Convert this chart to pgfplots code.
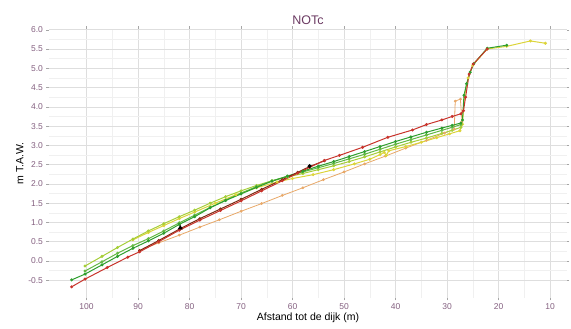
\documentclass[border=0pt]{standalone}
\usepackage{pgfplots}
\pgfplotsset{compat=1.18}
\usepackage{fontspec}
\setmainfont{Liberation Sans}
\definecolor{cRed}{HTML}{C8332B}
\definecolor{cDark}{HTML}{7A2A12}
\definecolor{cGreen}{HTML}{2E9E2E}
\definecolor{cMed}{HTML}{62B843}
\definecolor{cLight}{HTML}{A6CE39}
\definecolor{cYel}{HTML}{DCD43A}
\definecolor{cOra}{HTML}{E8A868}
\definecolor{cTick}{HTML}{846080}
\definecolor{cTitle}{HTML}{6B3A62}
\begin{document}
\begin{tikzpicture}
\begin{axis}[name=ax,
  scale only axis, width=518pt, height=269pt,
  x dir=reverse, xmin=6.7, xmax=107.3, ymin=-0.96, ymax=6.02,
  xtick={10,20,...,100}, ytick={-0.5,0,...,6.0},
  minor x tick num=1, minor y tick num=1,
  yticklabel style={/pgf/number format/.cd,fixed,fixed zerofill,precision=1},
  /pgf/number format/assume math mode=true,
  ticklabel style={font=\fontsize{8.5}{10}\selectfont, text=cTick},
  grid=both,
  major grid style={draw=black!13, line width=0.6pt},
  minor grid style={draw=black!6, line width=0.4pt},
  axis line style={draw=none},
  tick align=outside, major tick length=2.5pt, minor tick length=0pt,
  tick style={draw=black!35, line width=0.5pt},
  title={NOTc}, title style={font=\fontsize{12.5}{14}\selectfont, text=cTitle, yshift=-5pt},
  xlabel={Afstand tot de dijk (m)}, ylabel={m T.A.W.},
  label style={font=\fontsize{10.5}{12}\selectfont},
  xlabel style={yshift=4pt}, ylabel style={yshift=-2pt},
  every axis plot/.append style={line width=1pt, mark=*, mark size=0.95pt},
]
% orange / tan
\addplot[cOra, line width=0.8pt, mark options={fill=cOra, draw=cOra}] coordinates {
(89.7,0.28)(86,0.47)(82,0.67)(78,0.88)(74.2,1.07)(70,1.29)(66,1.49)(62,1.70)(58,1.90)(54,2.11)(50,2.31)(46,2.52)(42,2.72)(38,2.93)(34,3.13)(30.5,3.32)(28.6,3.42)(28.4,4.15)(27.4,4.2)(27.1,3.62)};
% yellow
\addplot[cYel, mark options={fill=cYel, draw=cYel}] coordinates {
(91,0.55)(88,0.74)(85,0.92)(82,1.10)(79,1.27)(75,1.50)(71,1.72)(67,1.90)(63,2.05)(60,2.14)(56,2.24)(52,2.37)(48,2.52)(45,2.64)(43,2.76)(42.2,2.82)(41.8,2.74)(41.3,2.86)(38,2.97)(35,3.08)(32,3.2)(29.5,3.3)(27.5,3.38)(27,3.55)(26.6,4.3)(25.9,4.75)(25,5.08)(22.2,5.5)(18.4,5.57)(13.8,5.71)(10.9,5.65)};
% light green
\addplot[cLight, mark options={fill=cLight, draw=cLight}] coordinates {
(100.3,-0.13)(97,0.12)(94,0.35)(91,0.57)(88,0.78)(85,0.97)(82,1.15)(79,1.32)(76,1.5)(73,1.67)(70,1.82)(67,1.96)(64,2.08)(61,2.18)(58,2.27)(55,2.37)(52,2.47)(49,2.58)(46,2.7)(43,2.83)(40,2.96)(37,3.08)(34,3.19)(31,3.31)(29,3.39)(27.3,3.47)};
% medium green
\addplot[cMed, mark options={fill=cMed, draw=cMed}] coordinates {
(100.3,-0.26)(97,-0.02)(94,0.2)(91,0.4)(88,0.58)(85,0.78)(82,0.99)(79,1.19)(76,1.39)(73,1.58)(70,1.76)(67,1.93)(64,2.08)(61,2.2)(58,2.31)(55,2.42)(52,2.53)(49,2.65)(46,2.77)(43,2.9)(40,3.03)(37,3.15)(34,3.27)(31,3.39)(29,3.47)(27.3,3.54)};
% green
\addplot[cGreen, mark options={fill=cGreen, draw=cGreen}] coordinates {
(102.9,-0.49)(100.3,-0.34)(97,-0.1)(94,0.12)(91,0.33)(88,0.52)(85,0.72)(82,0.95)(79,1.15)(76,1.38)(73,1.57)(70,1.74)(67,1.91)(64,2.07)(61,2.2)(58,2.33)(55,2.46)(52,2.58)(49,2.71)(46,2.84)(43,2.97)(40,3.1)(37,3.22)(34,3.34)(31,3.45)(29,3.52)(27.3,3.58)(27,3.66)(26.7,4.3)(26.2,4.6)(25.5,4.9)(24.8,5.12)(22.2,5.52)(18.4,5.6)};
% dark
\addplot[cDark, mark options={fill=cDark, draw=cDark}] coordinates {
(89.7,0.27)(86,0.53)(81.8,0.84)(78,1.1)(74,1.35)(70,1.6)(66,1.86)(62,2.11)(59,2.3)(56.7,2.45)(53.8,2.6)};
% red
\addplot[cRed, mark options={fill=cRed, draw=cRed}] coordinates {
(102.9,-0.67)(100.3,-0.47)(96,-0.17)(92,0.10)(89.7,0.24)(86,0.50)(82,0.80)(78,1.06)(74,1.31)(70,1.56)(66,1.82)(62,2.08)(59,2.28)(56.7,2.43)(53.8,2.61)(50.9,2.74)(46.4,2.95)(41.5,3.21)(36.7,3.40)(34,3.54)(31,3.66)(29,3.75)(27.3,3.82)(26.8,3.9)(26.4,4.25)(25.7,4.85)(24.9,5.11)(22.2,5.50)};
% black markers
\addplot[only marks, mark=*, mark size=1.5pt, black] coordinates {(56.7,2.46)};
\addplot[only marks, mark=triangle*, mark size=1.9pt, black] coordinates {(81.8,0.86)};
\end{axis}
\pgfresetboundingbox
\path ([shift={(-49pt,-31pt)}]ax.south west) rectangle ([shift={(4pt,29pt)}]ax.north east);
\end{tikzpicture}
\end{document}
